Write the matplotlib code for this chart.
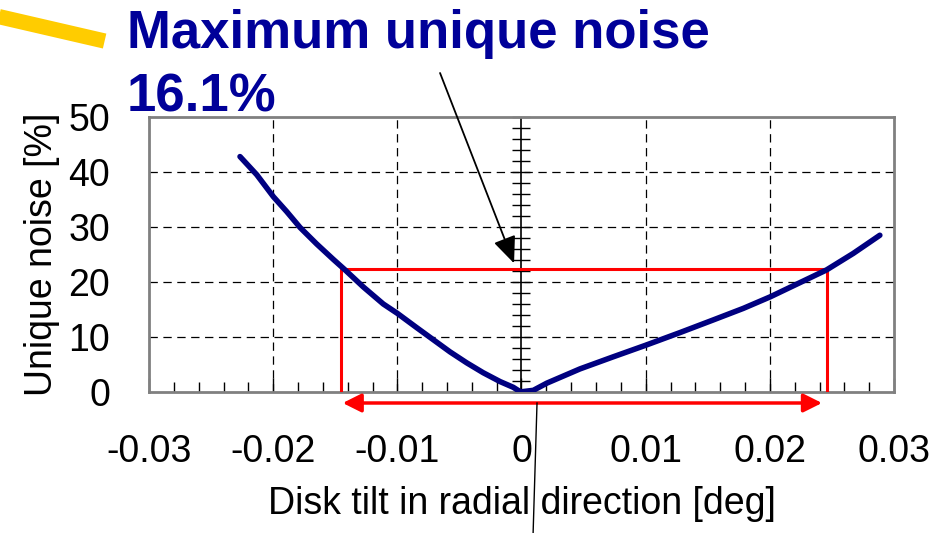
import matplotlib
matplotlib.use("Agg")
from matplotlib import pyplot as plt
from matplotlib.lines import Line2D
import numpy as np

plt.rcParams['font.family'] = ['Liberation Sans', 'DejaVu Sans']
plt.rcParams['lines.scale_dashes'] = False

# curve
tilt = [-0.02267, -0.02132, -0.01998, -0.01891, -0.01783, -0.01649, -0.01515, -0.01421,
        -0.01274, -0.01113, -0.01000, -0.00844, -0.00710, -0.00576, -0.00441, -0.00308,
        -0.00173, -0.00066, -0.00010,
        0.00002, 0.00095, 0.00203, 0.00337, 0.00471, 0.00739, 0.01000, 0.01276, 0.01544,
        0.01786, 0.02003, 0.02216, 0.02457, 0.02672, 0.02886]
noise = [42.8, 39.5, 35.5, 32.8, 29.9, 26.9, 24.1, 22.2,
         19.1, 16.0, 14.3, 11.7, 9.5, 7.3, 5.3, 3.5,
         1.9, 0.85, 0.05,
         0.05, 0.3, 1.6, 2.9, 4.2, 6.4, 8.5, 10.8, 13.1,
         15.2, 17.3, 19.6, 22.2, 25.2, 28.5]

# margin box
margin_left = -0.0145
margin_right = 0.0246
margin_level = 22.3

x_ticks = [-0.03, -0.02, -0.01, 0, 0.01, 0.02, 0.03]
x_labels = ['-0.03', '-0.02', '-0.01', '0', '0.01', '0.02', '0.03']
y_ticks = [0, 10, 20, 30, 40, 50]

title1 = "Maximum unique noise"
title2 = "16.1%"

fig = plt.figure(figsize=(9.51, 5.33), dpi=100)
ax = fig.add_axes([149/951, 1-392/533, (894-149)/951, (392-117)/533])

ax.set_xlim(-0.03, 0.03)
ax.set_ylim(0, 50)

for s in ax.spines.values():
    s.set_color('#808080')
    s.set_linewidth(2)

# grid
for xv in x_ticks[1:-1]:
    if xv != 0:
        ax.axvline(xv, color='black', lw=0.9, ls=(0, (6, 4)), zorder=1)
for yv in y_ticks[1:-1]:
    ax.axhline(yv, color='black', lw=0.9, ls=(0, (6, 4)), zorder=1)

# center axis with crossing ticks
ax.axvline(0, color='black', lw=1.2, zorder=2)
center_ticks = np.arange(0, 51, 2)
ax.plot(np.zeros(len(center_ticks)), center_ticks, ls='none', marker='_',
        markersize=13, mew=1.0, color='black', zorder=2, clip_on=False)

ax.set_xticks(x_ticks)
ax.set_xticklabels(x_labels)
ax.set_xticks(np.arange(-0.03, 0.0301, 0.002), minor=True)
ax.set_yticks(y_ticks)
ax.tick_params(axis='x', which='both', direction='in', color='black', width=1,
               top=False, labelsize=27, pad=30)
ax.tick_params(axis='x', which='major', length=10)
ax.tick_params(axis='x', which='minor', length=7)
ax.tick_params(axis='y', which='both', length=0, labelsize=27, pad=28)

ax.set_xlabel("Disk tilt in radial direction [deg]", fontsize=27, labelpad=12)
ax.set_ylabel("Unique noise [%]", fontsize=27, labelpad=6)

# red margin box
ax.plot([margin_left, margin_left, margin_right, margin_right],
        [0, margin_level, margin_level, 0], color='red', lw=2.2, zorder=3)

# curve
ax.plot(tilt, noise, color='#000080', lw=4.0, solid_capstyle='round',
        solid_joinstyle='round', zorder=4)

# red double arrow below axis
ax.annotate('', xy=(margin_left + 0.0001, -2.0), xytext=(margin_right - 0.0004, -2.0),
            xycoords='data', annotation_clip=False,
            arrowprops=dict(arrowstyle='<|-|>', color='red', lw=2.5,
                            mutation_scale=28, shrinkA=0, shrinkB=0))

# black pointer line from title
ax.annotate('', xy=(-0.0006, 23.4), xytext=(-0.00656, 58.0),
            xycoords='data', annotation_clip=False,
            arrowprops=dict(arrowstyle='-|>,head_length=0.75,head_width=0.32',
                            color='black', lw=1.3, mutation_scale=22,
                            shrinkA=0, shrinkB=0))

# thin black line through x label
ax.plot([0.00125, 0.00093], [-2.0, -26.0], color='black', lw=1.0, clip_on=False, zorder=5)

# yellow stroke top-left
fig.add_artist(Line2D([-0.01, 0.110], [0.9725, 0.923], transform=fig.transFigure,
                      color='#FFCC00', lw=11, solid_capstyle='butt'))

fig.text(127/951, 1-48/533, title1, color='#000099', fontsize=38,
         fontweight='bold', ha='left', va='baseline')
fig.text(127/951, 1-112/533, title2, color='#000099', fontsize=38,
         fontweight='bold', ha='left', va='baseline')

fig.savefig('out.png', dpi=100)
